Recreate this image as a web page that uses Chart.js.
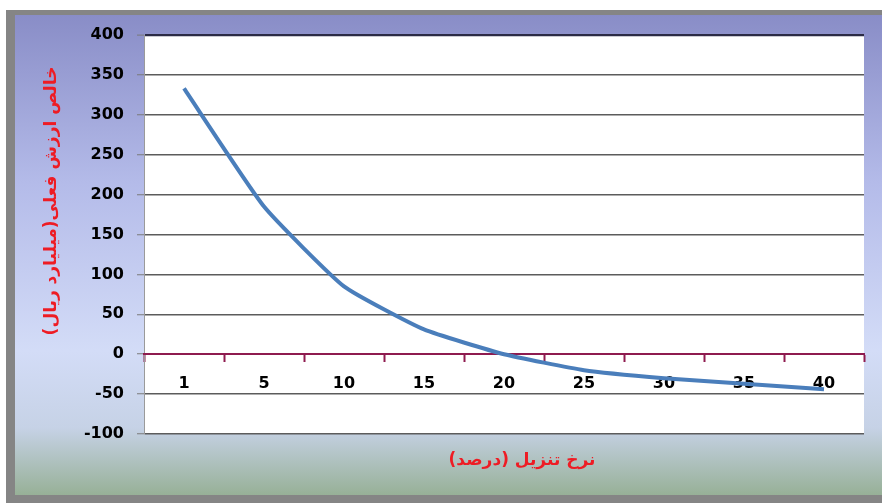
<!DOCTYPE html>
<html>
<head>
<meta charset="utf-8">
<script src="https://cdn.jsdelivr.net/npm/chart.js@4.4.1/dist/chart.umd.min.js"></script>
<style>
html,body{margin:0;padding:0;background:#fff;}
#wrap{position:relative;width:882px;height:503px;}
</style>
</head>
<body>
<div id="wrap"><canvas id="c" width="882" height="503"></canvas></div>
<script>
const categories = ['1','5','10','15','20','25','30','35','40'];
const npvValues = [333, 185, 85, 31, 0, -20, -30, -37, -44];
const yMin = -100, yMax = 400, yStep = 50;
const yTitle = 'خالص ارزش فعلی(میلیارد ریال)';
const xTitle = 'نرخ تنزیل (درصد)';

const bgPlugin = {
  id: 'bg',
  beforeDraw(chart) {
    const ctx = chart.ctx, W = chart.width, H = chart.height;
    ctx.save();
    ctx.fillStyle = '#ffffff';
    ctx.fillRect(0, 0, W, H);
    const g = ctx.createLinearGradient(0, 15, 0, 495);
    g.addColorStop(0, '#898dc7');
    g.addColorStop(0.35, '#b4bbe9');
    g.addColorStop(0.7, '#d3dcf7');
    g.addColorStop(0.86, '#c6d2e6');
    g.addColorStop(1, '#97b097');
    ctx.fillStyle = g;
    ctx.fillRect(6, 10, W - 6, H - 10);
    ctx.fillStyle = '#858585';
    ctx.fillRect(6, 10, W - 6, 5);
    ctx.fillRect(6, 10, 9, H - 10);
    ctx.fillRect(6, 495, W - 6, H - 495);
    const a = chart.chartArea;
    ctx.fillStyle = '#ffffff';
    ctx.fillRect(a.left, a.top, a.right - a.left, a.bottom - a.top);
    ctx.restore();
  },
  afterDraw(chart) {
    const ctx = chart.ctx;
    ctx.save();
    ctx.fillStyle = '#ee1c24';
    ctx.font = 'bold 17px "DejaVu Sans"';
    ctx.textAlign = 'center';
    ctx.textBaseline = 'middle';
    ctx.direction = 'rtl';
    ctx.fillText(xTitle, 522, 461);
    ctx.translate(52, 201);
    ctx.rotate(-Math.PI / 2);
    ctx.fillText(yTitle, 0, 0);
    ctx.restore();
  }
};

new Chart(document.getElementById('c'), {
  type: 'line',
  data: {
    labels: categories,
    datasets: [{
      data: npvValues,
      borderColor: '#4a7ebb',
      borderWidth: 4,
      pointRadius: 0,
      tension: 0.15,
      fill: false
    }]
  },
  options: {
    responsive: false,
    animation: false,
    layout: { padding: { left: 0, top: 35, right: 18, bottom: 69 } },
    plugins: { legend: { display: false }, tooltip: { enabled: false } },
    scales: {
      y: {
        min: yMin, max: yMax,
        afterFit(scale) { scale.width = 144; },
        ticks: {
          stepSize: yStep,
          color: '#000',
          font: { family: 'DejaVu Sans', weight: 'bold', size: 16 },
          padding: 13
        },
        grid: {
          color: (c) => c.tick && c.tick.value === yMax ? '#2b2b45' : '#5c5c5c',
          lineWidth: (c) => c.tick && c.tick.value === yMax ? 2.2 : 1.5,
          tickColor: '#7a7a7a',
          tickLength: 7,
          tickWidth: 1
        },
        border: { color: '#9a9a9a', width: 1 }
      },
      x: {
        type: 'category',
        position: { y: 0 },
        offset: true,
        ticks: {
          color: '#000',
          font: { family: 'DejaVu Sans', weight: 'bold', size: 16 },
          padding: 13,
          maxRotation: 0
        },
        grid: {
          offset: true,
          drawOnChartArea: false,
          drawTicks: true,
          tickLength: 7,
          tickColor: '#8e1b4f',
          tickWidth: 2
        },
        border: { color: '#8e1b4f', width: 2 }
      }
    }
  },
  plugins: [bgPlugin]
});
</script>
</body>
</html>
